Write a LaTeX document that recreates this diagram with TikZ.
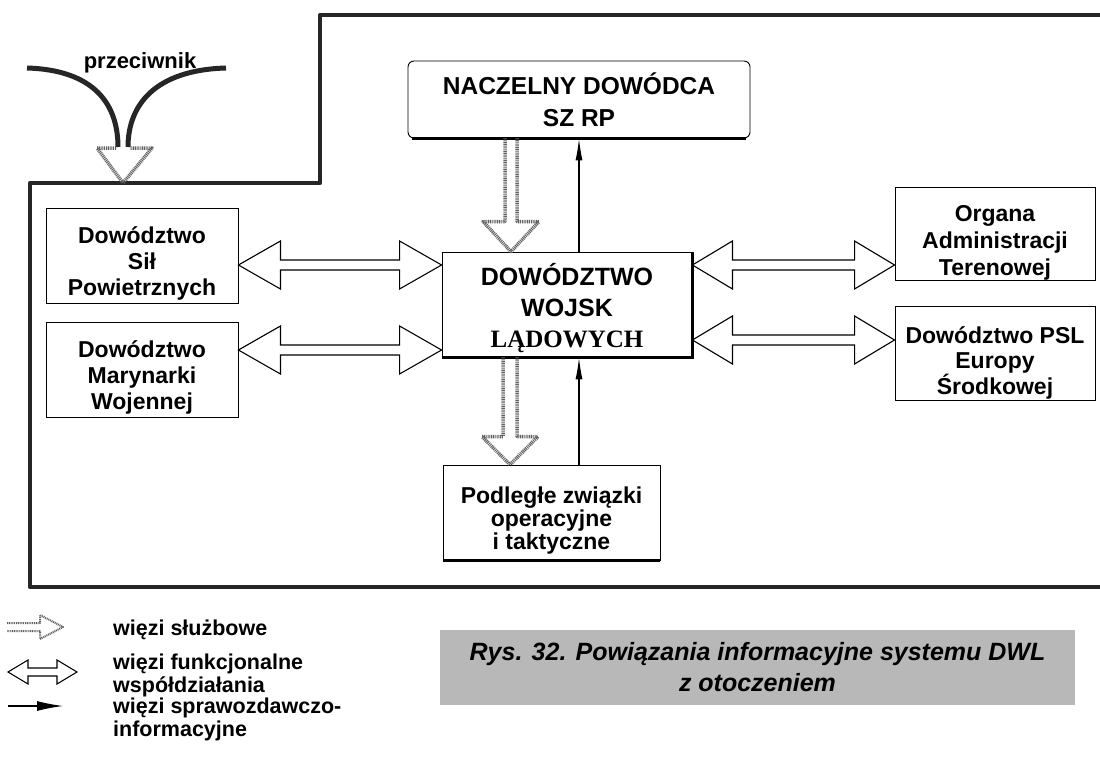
\documentclass[tikz,border=0pt]{standalone}
\usepackage{fontspec}
\setmainfont{Liberation Sans}
\newfontfamily\serifpl{Liberation Serif}
\usetikzlibrary{arrows.meta, calc}

\newcommand{\rozm}[2]{\fontsize{#1}{#2}\selectfont}
\newcommand{\odst}[1]{\rule{0pt}{#1}}

% szeroka strzalka w obie strony (wiezi funkcjonalne)
\newcommand{\funkarrow}[5]{%
  \draw[funk] let \p1=(#1), \p2=(#2) in
    (\x1,\y1) -- (\x1+#5pt,\y1+#4pt) -- (\x1+#5pt,\y1+#3pt) -- (\x2-#5pt,\y1+#3pt)
    -- (\x2-#5pt,\y1+#4pt) -- (\x2,\y1) -- (\x2-#5pt,\y1-#4pt) -- (\x2-#5pt,\y1-#3pt)
    -- (\x1+#5pt,\y1-#3pt) -- (\x1+#5pt,\y1-#4pt) -- cycle;}
% kreskowana strzalka w dol (wiezi sluzbowe)
\newcommand{\sluzarrow}[5]{%
  \draw[sluz] let \p1=(#1), \p2=(#2) in
    (\x1-#3pt,\y1) -- (\x1-#3pt,\y2+#5pt) -- (\x1-#4pt,\y2+#5pt) -- (\x1,\y2)
    -- (\x1+#4pt,\y2+#5pt) -- (\x1+#3pt,\y2+#5pt) -- (\x1+#3pt,\y1);}

\tikzset{
  ramka/.style={line width=4.5pt, line join=round, black!85},
  blok/.style={draw, line width=0.9pt, align=center, inner sep=0pt,
    font=\bfseries\rozm{23}{26}},
  cien/.style={line width=3.5pt},
  funk/.style={draw, line width=1.1pt, fill=white},
  sluz/.style={draw=black!62, line width=3.5pt, dash pattern=on 1pt off 0.8pt, line join=round},
  spraw/.style={line width=1.2pt, -{Latex[length=22pt, width=7pt]}},
  opis/.style={font=\bfseries\rozm{21.5}{23}, align=left, anchor=west, inner sep=0pt}
}

\begin{document}
\begin{tikzpicture}[x=1pt, y=-1pt]
  \useasboundingbox (0,0) rectangle (1100,760);

  % ramka systemu
  \draw[ramka] (1100,15) -- (320,15) -- (320,183) -- (30,183) -- (30,587) -- (1100,587);

  % przeciwnik
  \node[font=\bfseries\rozm{22}{24}, inner sep=0pt] (prz) at (140,63) {przeciwnik};
  \coordinate (wrogL) at (27,68);
  \coordinate (wrogP) at (226,68);
  \coordinate (wejscie) at (123,183);
  \draw[line width=5pt, black!85] (wrogL) .. controls (95,70) and (118,105) .. (118,147);
  \draw[line width=5pt, black!85] (wrogP) .. controls (155,70) and (128,105) .. (128,147);
  \draw[sluz] (116,148) -- (97,148) -- (wejscie) -- (152,148) -- (130,148);

  % bloki
  \node[blok, rounded corners=6pt, minimum width=342pt, minimum height=77pt,
    font=\bfseries\rozm{24.5}{32}] (nacz) at (579,99.5) {NACZELNY DOWÓDCA\\SZ RP};
  \node[blok, minimum width=250pt, minimum height=105pt,
    font=\bfseries\rozm{25}{31}] (dwl) at (567,304.5)
    {\odst{30pt}DOWÓDZTWO\\WOJSK\\{\serifpl\bfseries LĄDOWYCH}};
  \node[blok, minimum width=192pt, minimum height=95pt] (sp) at (142,255.5)
    {\odst{33pt}Dowództwo\\Sił\\Powietrznych};
  \node[blok, minimum width=192pt, minimum height=95pt] (mw) at (142,369.5)
    {\odst{33pt}Dowództwo\\Marynarki\\Wojennej};
  \node[blok, minimum width=200pt, minimum height=93pt,
    font=\bfseries\rozm{23}{27}] (org) at (995,233.5) {\odst{34pt}Organa\\Administracji\\Terenowej};
  \node[blok, minimum width=200pt, minimum height=94pt,
    font=\bfseries\rozm{23}{24.5}] (psl) at (995,353) {\odst{37pt}Dowództwo PSL\\Europy\\Środkowej};
  \node[blok, minimum width=217pt, minimum height=95pt,
    font=\bfseries\rozm{23}{23}] (podl) at (551.5,512.5) {\odst{33pt}Podległe związki\\operacyjne\\i taktyczne};

  \draw[cien] (nacz.south west) ++(4,0) -- ($(nacz.south east)+(-4,0)$);
  \draw[cien] (dwl.north east) -- (dwl.south east) -- (dwl.south west);
  \draw[cien] (podl.south west) -- (podl.south east);

  % wiezi funkcjonalne
  \funkarrow{sp.east |- 0,265}{dwl.west |- 0,265}{5}{24}{42}
  \funkarrow{mw.east |- 0,350}{dwl.west |- 0,350}{5}{24}{42}
  \funkarrow{dwl.east |- 0,265}{org.west |- 0,265}{5}{24}{40}
  \funkarrow{dwl.east |- 0,340}{psl.west |- 0,340}{5}{24}{40}

  % wiezi sluzbowe
  \sluzarrow{nacz.south -| 511,0}{dwl.north -| 511,0}{6}{28}{30}
  \sluzarrow{dwl.south -| 510,0}{podl.north -| 510,0}{7}{28}{28}

  % wiezi sprawozdawczo-informacyjne
  \draw[spraw] (dwl.north -| 579,0) -- (nacz.south -| 579,0);
  \draw[spraw] (podl.north -| 579,0) -- (dwl.south -| 579,0);

  % legenda
  \draw[sluz, line width=2pt] (7,623) -- (40,623) -- (40,615) -- (63,627) -- (40,639) -- (40,631) -- (7,631);
  \funkarrow{8,672}{77,672}{4}{12}{20}
  \draw[spraw, -{Latex[length=26pt, width=10pt]}] (8,706) -- (63,706);
  \node[opis] (leg1) at (113,630) {więzi służbowe};
  \node[opis] (leg2) at (113,675) {więzi funkcjonalne\\współdziałania};
  \node[opis] (leg3) at (113,719.5) {więzi sprawozdawczo-\\informacyjne};

  % podpis
  \node[fill=black!28, align=center, minimum width=635pt, minimum height=75pt,
    font=\bfseries\itshape\rozm{25}{31}] (podpis) at (757.5,667.5)
    {Rys. 32. Powiązania informacyjne systemu DWL\\z otoczeniem};
\end{tikzpicture}
\end{document}
